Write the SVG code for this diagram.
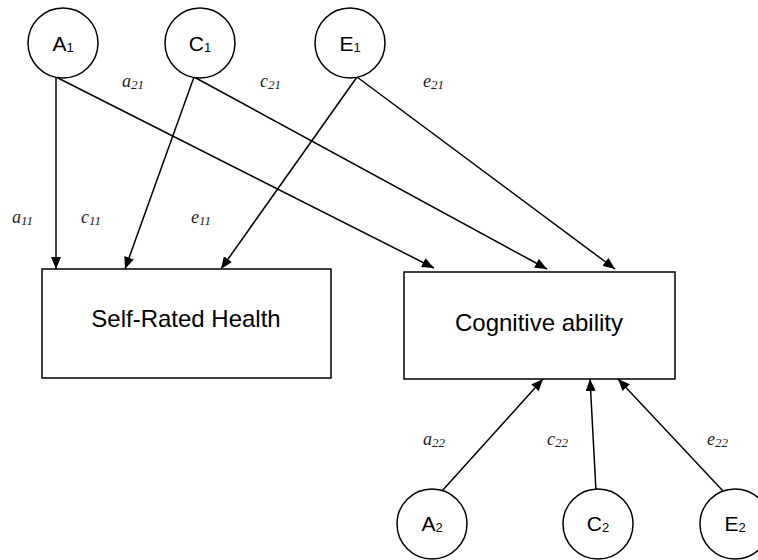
<svg xmlns="http://www.w3.org/2000/svg" width="758" height="560" viewBox="0 0 758 560">
<defs>
<marker id="arr" markerUnits="userSpaceOnUse" markerWidth="12" markerHeight="10" refX="12" refY="5" orient="auto">
<path d="M0,0 L12,5 L0,10 Z" fill="#000"/>
</marker>
<style>
.n{fill:#fff;stroke:#000;stroke-width:1.5}
.c{stroke:#000;stroke-width:1.5;fill:none;marker-end:url(#arr)}
.t{font-family:"Liberation Sans",Arial,sans-serif;fill:#000;text-anchor:middle}
.nl{font-size:21px}
.sub{font-size:13px}
.bl{font-size:24px}
.p{font-family:"Liberation Serif","Times New Roman",serif;font-style:italic;font-size:18px;fill:#222}
.ps{font-size:13px}
</style>
</defs>
<rect width="758" height="560" fill="#fff"/>
<g id="connectors">
<line class="c" x1="56" y1="77" x2="56" y2="269"/>
<line class="c" x1="194" y1="77" x2="125" y2="269"/>
<line class="c" x1="357" y1="77" x2="221" y2="269"/>
<line class="c" x1="56" y1="77" x2="434" y2="268"/>
<line class="c" x1="194" y1="77" x2="547" y2="269"/>
<line class="c" x1="357" y1="77" x2="615" y2="269"/>
<line class="c" x1="442" y1="491" x2="543" y2="379"/>
<line class="c" x1="596" y1="491" x2="590" y2="379"/>
<line class="c" x1="723" y1="491" x2="618" y2="379"/>
</g>
<g id="labels">
<text class="p" x="122" y="87">a<tspan class="ps" dy="2">21</tspan></text>
<text class="p" x="260" y="87">c<tspan class="ps" dy="2">21</tspan></text>
<text class="p" x="423" y="87">e<tspan class="ps" dy="2">21</tspan></text>
<text class="p" x="12" y="223">a<tspan class="ps" dy="2">11</tspan></text>
<text class="p" x="81" y="223">c<tspan class="ps" dy="2">11</tspan></text>
<text class="p" x="191" y="223">e<tspan class="ps" dy="2">11</tspan></text>
<text class="p" x="423" y="445">a<tspan class="ps" dy="2">22</tspan></text>
<text class="p" x="547" y="445">c<tspan class="ps" dy="2">22</tspan></text>
<text class="p" x="707" y="445">e<tspan class="ps" dy="2">22</tspan></text>
</g>
<g id="A1"><circle class="n" cx="63" cy="43" r="35"/><text class="t nl" x="63" y="51">A<tspan class="sub" dy="1">1</tspan></text></g>
<g id="C1"><circle class="n" cx="200" cy="43" r="35"/><text class="t nl" x="200" y="51">C<tspan class="sub" dy="1">1</tspan></text></g>
<g id="E1"><circle class="n" cx="350" cy="43" r="35"/><text class="t nl" x="350" y="51">E<tspan class="sub" dy="1">1</tspan></text></g>
<g id="SRH"><rect class="n" x="42" y="269" width="289" height="109"/><text class="t bl" x="186" y="327">Self-Rated Health</text></g>
<g id="COG"><rect class="n" x="404" y="272" width="271" height="107"/><text class="t bl" x="539" y="331">Cognitive ability</text></g>
<g id="A2"><circle class="n" cx="432" cy="524" r="35"/><text class="t nl" x="432" y="531">A<tspan class="sub" dy="1">2</tspan></text></g>
<g id="C2"><circle class="n" cx="598" cy="524" r="35"/><text class="t nl" x="598" y="531">C<tspan class="sub" dy="1">2</tspan></text></g>
<g id="E2"><circle class="n" cx="735" cy="524" r="35"/><text class="t nl" x="735" y="531">E<tspan class="sub" dy="1">2</tspan></text></g>
</svg>
